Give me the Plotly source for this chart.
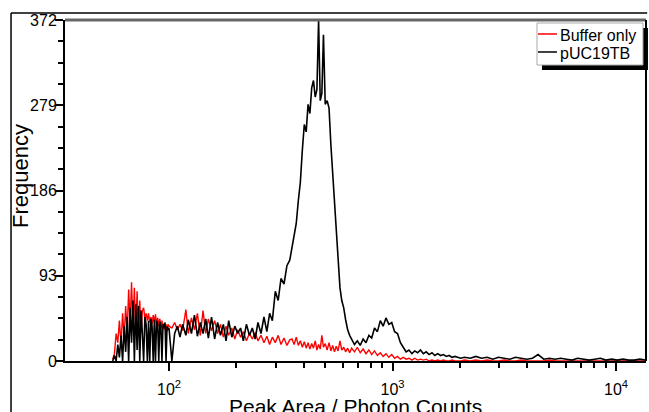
import plotly.graph_objects as go

# histogram bins (peak area, photon counts)
peak_area = [
    56, 57, 58, 59, 60, 61, 62, 63, 64, 65, 66, 67, 68, 69, 70, 71, 72, 73, 74, 75,
    76, 77, 78, 79, 80, 81, 82, 83, 84, 85, 86, 87, 88, 89, 90, 91, 92, 93, 94, 95,
    96, 97, 98, 99,
    100, 103, 106, 109, 112, 115, 119, 122, 126, 130, 134, 138, 142, 146, 150, 155,
    160, 165, 170, 175, 180, 185, 191, 197, 203, 209, 215, 222, 229, 236, 243, 250,
    258, 266, 274, 282, 290, 299, 308, 317, 327, 337, 347,
    355, 363, 371, 379, 387, 395, 403, 411, 419, 427, 435, 443, 451, 459, 467, 475,
    483, 491, 500, 510, 520, 530, 540, 550, 560, 571, 582, 593, 605, 617, 630, 643,
    656, 676, 696, 717, 739, 761, 784, 807, 831, 856, 882, 908, 935, 963, 992, 1022,
    1053, 1085, 1117, 1151, 1185, 1221, 1258, 1295, 1334, 1374, 1415, 1458, 1502,
    1547, 1593, 1641, 1690, 1741, 1793, 1847, 1902, 1959, 2018,
    2100, 2230, 2360, 2500, 2650, 2810, 2980, 3160, 3350, 3550, 3760, 3990, 4230,
    4480, 4750, 5040, 5340, 5660, 6000, 6360, 6740, 7150, 7580, 8030, 8510, 9020,
    9560, 10130, 10740, 11390, 12070, 12800, 13500,
]

buffer_only = [
    2, 8, 30, 20, 44, 18, 52, 25, 60, 30, 78, 40, 86, 35, 80, 30, 76, 28, 66, 30,
    55, 58, 47, 52, 44, 52, 42, 48, 40, 50, 42, 51, 40, 47, 38, 46, 36, 44, 35, 41,
    34, 40, 32, 40,
    38, 36, 42, 34, 40, 33, 56, 30, 47, 34, 52, 28, 55, 30, 46, 33,
    44, 30, 40, 26, 38, 28, 36, 24, 34, 26, 32, 22, 30, 24, 31, 22,
    28, 20, 27, 18, 26, 20, 28, 18, 25, 17, 23,
    24, 18, 26, 17, 22, 15, 21, 14, 20, 13, 19, 14, 22, 12, 18, 13,
    28, 15, 19, 12, 20, 11, 17, 10, 16, 11, 22, 12, 15, 10, 14, 9,
    14, 10, 15, 9, 13, 8, 12, 7, 11, 6, 9, 5, 8, 4, 7, 3,
    5, 2, 4, 2, 3, 1, 3, 1, 2, 1, 2, 0, 1,
    0, 1, 0, 1, 0, 0, 1, 0, 0, 0,
    1, 0, 1, 0, 1, 0, 0, 1, 0, 0, 1, 0, 0,
    0, 0, 1, 0, 0, 0, 0, 0, 0, 0, 0, 0, 0,
    0, 0, 0, 0, 0, 0, 0,
]

puc19tb = [
    0, 6, 0, 18, 4, 28, 0, 38, 10, 48, 0, 58, 20, 66, 0, 62, 12, 60, 0, 55,
    30, 0, 48, 40, 0, 44, 0, 46, 38, 0, 45, 0, 44, 40, 0, 43, 38, 0, 40, 36,
    42, 0, 38, 34,
    36, 0, 30, 38, 26, 40, 28, 45, 30, 50, 27, 42, 30, 46, 25, 48,
    24, 42, 28, 40, 22, 44, 26, 38, 30, 36, 22, 40, 28, 36, 24, 42,
    30, 48, 32, 52, 44, 76, 66, 90, 84, 104, 110,
    125, 140, 150, 175, 195, 230, 258, 250, 280, 270, 298, 306, 288, 296, 372, 284,
    292, 356, 280, 284, 276, 236, 205, 170, 140, 112, 80, 66, 58, 45, 34, 28,
    24, 18, 22, 17, 24, 20, 28, 25, 36, 32, 44, 38, 47, 40, 42, 32,
    30, 20, 15, 10, 12, 8, 11, 9, 12, 8, 10, 7, 9,
    6, 8, 6, 7, 5, 6, 4, 5, 4, 3,
    4, 3, 5, 3, 4, 2, 4, 3, 2, 4, 3, 2, 3,
    7, 2, 3, 2, 3, 2, 1, 3, 2, 1, 2, 3, 1,
    2, 1, 2, 1, 1, 2, 1,
]

series_names = ["Buffer only", "pUC19TB"]
series_colors = ["#ff0000", "black"]

y_ticks = [0, 93, 186, 279, 372]
x_ticks = [100, 1000, 10000]
x_ticktext = ["10<sup>2</sup>", "10<sup>3</sup>", "10<sup>4</sup>"]
x_minor = [200, 300, 400, 500, 600, 700, 800, 900,
           2000, 3000, 4000, 5000, 6000, 7000, 8000, 9000]

FONT = "Liberation Sans, Arial, sans-serif"

fig = go.Figure()
fig.add_trace(go.Scatter(x=peak_area, y=buffer_only, name=series_names[0], mode="lines",
                         line=dict(color=series_colors[0], width=1.4)))
fig.add_trace(go.Scatter(x=peak_area, y=puc19tb, name=series_names[1], mode="lines",
                         line=dict(color=series_colors[1], width=1.6)))

fig.update_layout(
    width=649, height=412,
    margin=dict(l=65, r=3, t=20, b=51, autoexpand=False),
    paper_bgcolor="white", plot_bgcolor="white",
    font=dict(family=FONT, size=16, color="black"),
    showlegend=False,
)

fig.update_xaxes(
    type="log", range=[1.5347, 4.1342], automargin=False,
    showline=True, linecolor="black", linewidth=2,
    ticks="outside", ticklen=8, tickwidth=1.5, tickcolor="black",
    tickvals=x_ticks, ticktext=x_ticktext, ticklabelstandoff=5,
    minor=dict(ticks="outside", ticklen=5, tickwidth=1.5, tickcolor="black", tickvals=x_minor),
    showgrid=False, zeroline=False,
)
fig.update_yaxes(
    range=[0, 372], automargin=False,
    showline=True, linecolor="black", linewidth=2,
    ticks="outside", ticklen=8, tickwidth=1.5, tickcolor="black",
    tickvals=y_ticks, ticklabelstandoff=-5,
    minor=dict(ticks="outside", ticklen=5, tickwidth=1.5, tickcolor="black", dtick=23.25, tick0=0),
    showgrid=False, zeroline=False,
)

# axis titles
fig.add_annotation(text="Frequency", x=-0.0775, y=0.5425, xref="paper", yref="paper",
                   xanchor="center", yanchor="middle",
                   textangle=-90, showarrow=False, font=dict(size=22))
fig.add_annotation(text="Peak Area / Photon Counts", x=0.5, y=-0.0938, xref="paper", yref="paper",
                   xanchor="center", yanchor="top", showarrow=False, font=dict(size=21))

# frame lines
fig.add_shape(type="line", xref="paper", yref="paper", x0=-0.0929, x1=-0.0929, y0=-0.17, y1=1.0205,
              line=dict(color="black", width=1.5))
fig.add_shape(type="line", xref="paper", yref="paper", x0=-0.0929, x1=1.002, y0=1.0205, y1=1.0205,
              line=dict(color="black", width=1.5))
fig.add_shape(type="line", xref="paper", yref="paper", x0=0, x1=1, y0=1, y1=1,
              line=dict(color="#666666", width=3))
fig.add_shape(type="line", xref="paper", yref="paper", x0=1, x1=1, y0=0, y1=1,
              line=dict(color="black", width=2))

# legend box with drop shadow
fig.add_shape(type="rect", xref="paper", yref="paper", x0=0.821, x1=1.0034, y0=0.8534, y1=0.9765,
              line=dict(width=0), fillcolor="black")
fig.add_shape(type="rect", xref="paper", yref="paper", x0=0.8124, x1=0.9948, y0=0.868, y1=0.9912,
              line=dict(color="#aaaaaa", width=1), fillcolor="white")
for name, color, ly, ty in zip(series_names, series_colors, [0.959, 0.9062], [0.956, 0.9003]):
    fig.add_shape(type="line", xref="paper", yref="paper", x0=0.8141, x1=0.8468, y0=ly, y1=ly,
                  line=dict(color=color, width=1.5))
    fig.add_annotation(text=name, x=0.8485, y=ty, xref="paper", yref="paper",
                       xanchor="left", yanchor="middle", showarrow=False, font=dict(size=16))

fig.write_html("out.html", config={"displayModeBar": False},
               post_script="document.body.style.margin='0';")
